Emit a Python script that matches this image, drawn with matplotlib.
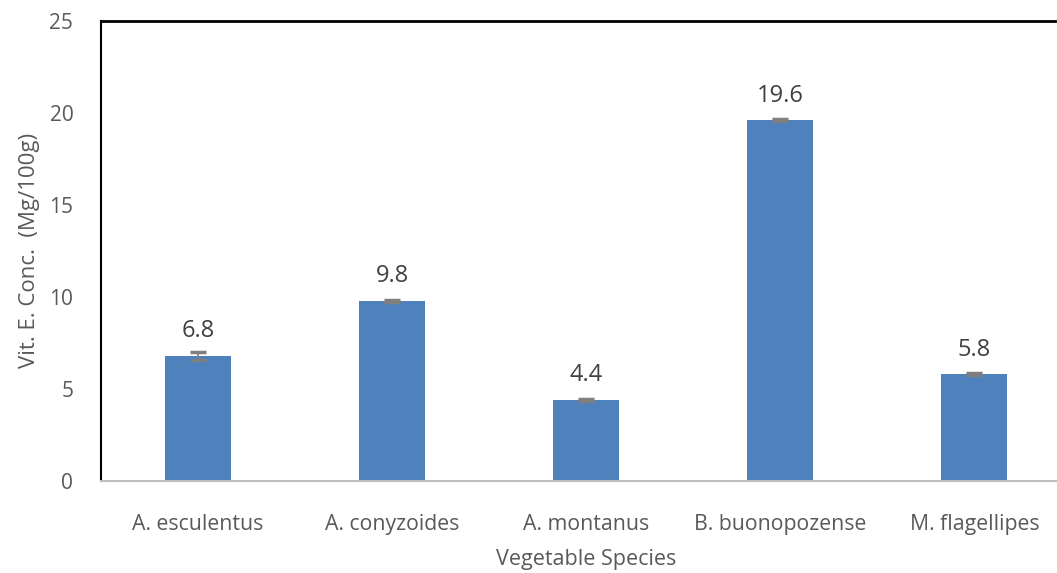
import matplotlib
matplotlib.use("Agg")
from matplotlib import pyplot as plt

species = ["A. esculentus", "A. conyzoides", "A. montanus", "B. buonopozense", "M. flagellipes"]
vit_e = [6.8, 9.8, 4.4, 19.6, 5.8]
errors = [0.2, 0.05, 0.05, 0.05, 0.05]

plt.rcParams['font.family'] = ['Open Sans', 'DejaVu Sans']
text_color = '#595959'

fig = plt.figure(figsize=(10.57, 5.73), dpi=100)
ax = fig.add_axes([0.0956, 0.1606, 0.918, 0.803])

x = range(len(species))
ax.bar(x, vit_e, width=0.34, color='#4f81bd', yerr=errors,
       error_kw={'ecolor': '#7f7f7f', 'elinewidth': 1.2, 'capsize': 6, 'capthick': 2.5})

for xi, v in zip(x, vit_e):
    ax.annotate(f"{v}", (xi, v), xytext=(0, 9), textcoords='offset points',
                ha='center', va='bottom', fontsize=17, color='#404040')

ax.set_xlim(-0.5, len(species) - 0.5)
ax.set_ylim(0, 25)
ax.set_yticks([0, 5, 10, 15, 20, 25])
ax.set_xticks(list(x))
ax.set_xticklabels(species)
ax.tick_params(axis='x', length=0, labelsize=15.3, labelcolor=text_color, pad=24)
ax.tick_params(axis='y', length=0, labelsize=15, labelcolor=text_color, pad=20)

ax.set_xlabel("Vegetable Species", fontsize=15.5, color=text_color, labelpad=10)
ax.set_ylabel("Vit. E. Conc.  (Mg/100g)", fontsize=16, color=text_color, labelpad=7)

ax.spines['left'].set_color('black')
ax.spines['left'].set_linewidth(1.5)
ax.spines['top'].set_color('black')
ax.spines['top'].set_linewidth(2)
ax.spines['bottom'].set_color('#bfbfbf')
ax.spines['bottom'].set_linewidth(1.5)
ax.spines['right'].set_visible(False)

fig.savefig("out.png", dpi=100)
